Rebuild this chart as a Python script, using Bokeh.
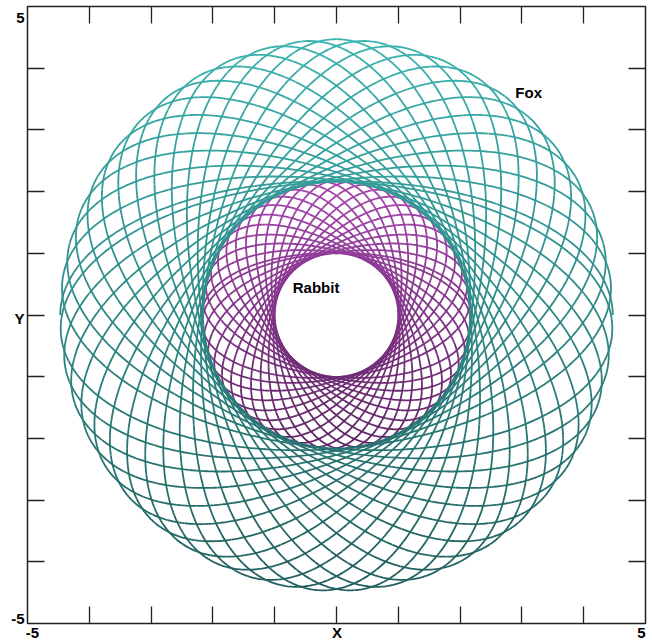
import numpy as np
from bokeh.plotting import figure
from bokeh.models import Range1d, FixedTicker, LinearAxis, Label, ColumnDataSource
from bokeh.embed import file_html
from bokeh.resources import INLINE

# Orbit shapes: each track is a precessing ellipse that sweeps an annulus
names = ["Fox", "Rabbit"]
outer_radius = [4.47, 2.18]
inner_radius = [2.16, 1.00]
loop_count = [24, 22]

# Tick positions and the labels shown on the axes
tick_values = [-4, -3, -2, -1, 0, 1, 2, 3, 4]
label_values = [-5, 0, 5]
x_label_text = {-5: "-5", 0: "X", 5: "5"}
y_label_text = {-5: "-5", 0: "Y", 5: "5"}

LIGHT = {"Fox": "#3bb3af", "Rabbit": "#a646ae"}
DARK = {"Fox": "#205e5c", "Rabbit": "#5a2360"}
FONT = "Liberation Sans"
INK = "#222222"


def mix(c1, c2, f):
    a = [int(c1[i:i + 2], 16) for i in (1, 3, 5)]
    b = [int(c2[i:i + 2], 16) for i in (1, 3, 5)]
    return "#%02x%02x%02x" % tuple(int(round(a[k] + (b[k] - a[k]) * f)) for k in range(3))


def track(a, b, n, per_loop=360):
    t = np.linspace(0.0, 2 * np.pi * n, n * per_loop + 1)
    psi = t / (2 * n)
    x0, y0 = a * np.cos(t), b * np.sin(t)
    return x0 * np.cos(psi) - y0 * np.sin(psi), x0 * np.sin(psi) + y0 * np.cos(psi)


p = figure(width=652, height=643, x_range=Range1d(-5, 5), y_range=Range1d(-5, 5),
           output_backend="svg", toolbar_location=None,
           min_border_left=27, min_border_right=7, min_border_top=6, min_border_bottom=20)
p.grid.visible = False
p.background_fill_color = "white"
p.border_fill_color = "white"
p.outline_line_color = INK
p.outline_line_width = 1.5

# label ranges: slightly wider than the data range so the end labels sit just inside the corners
p.extra_x_ranges = {"lab": Range1d(-5.082, 5.066)}
p.extra_y_ranges = {"lab": Range1d(-5.083, 5.183)}

for name, a, b, n in zip(names[::-1], outer_radius[::-1], inner_radius[::-1], loop_count[::-1]):
    x, y = track(a, b, n)
    step = 6
    xs, ys, cs = [], [], []
    for i in range(0, len(x) - 1, step):
        sx = x[i:i + step + 1]
        sy = y[i:i + step + 1]
        f = (sy.mean() + a) / (2 * a)
        xs.append(sx)
        ys.append(sy)
        cs.append(mix(DARK[name], LIGHT[name], min(max(f, 0), 1)))
    src = ColumnDataSource(dict(xs=xs, ys=ys, c=cs))
    p.multi_line("xs", "ys", source=src, line_color="c", line_width=1.8)


def tick_axis(ax):
    ax.ticker = FixedTicker(ticks=tick_values)
    ax.major_tick_in = 17
    ax.major_tick_out = 0
    ax.minor_tick_line_color = None
    ax.major_tick_line_color = INK
    ax.major_tick_line_width = 1.3
    ax.axis_line_color = None
    ax.major_label_overrides = {v: "" for v in tick_values}
    ax.major_label_text_font_size = "0px"
    ax.major_label_standoff = 0


def label_axis(ax, texts, standoff):
    ax.ticker = FixedTicker(ticks=label_values)
    ax.major_tick_in = 0
    ax.major_tick_out = 0
    ax.major_tick_line_color = None
    ax.minor_tick_line_color = None
    ax.axis_line_color = None
    ax.major_label_overrides = texts
    ax.major_label_text_font = FONT
    ax.major_label_text_font_style = "bold"
    ax.major_label_text_font_size = "15px"
    ax.major_label_text_color = "black"
    ax.major_label_standoff = standoff


tick_axis(p.xaxis[0])
tick_axis(p.yaxis[0])
top = LinearAxis()
right = LinearAxis()
tick_axis(top)
tick_axis(right)
p.add_layout(top, "above")
p.add_layout(right, "right")

xlab = LinearAxis(x_range_name="lab")
ylab = LinearAxis(y_range_name="lab")
label_axis(xlab, x_label_text, 0)
label_axis(ylab, y_label_text, 3)
p.add_layout(xlab, "below")
p.add_layout(ylab, "left")

lab = dict(text_font=FONT, text_font_style="bold", text_font_size="15px", text_color="black")
p.add_layout(Label(x=3.11, y=3.61, text=names[0], text_align="center",
                   text_baseline="middle", **lab))
p.add_layout(Label(x=-0.33, y=0.45, text=names[1], text_align="center",
                   text_baseline="middle", **lab))

open("out.html", "w").write(file_html(p, INLINE))
